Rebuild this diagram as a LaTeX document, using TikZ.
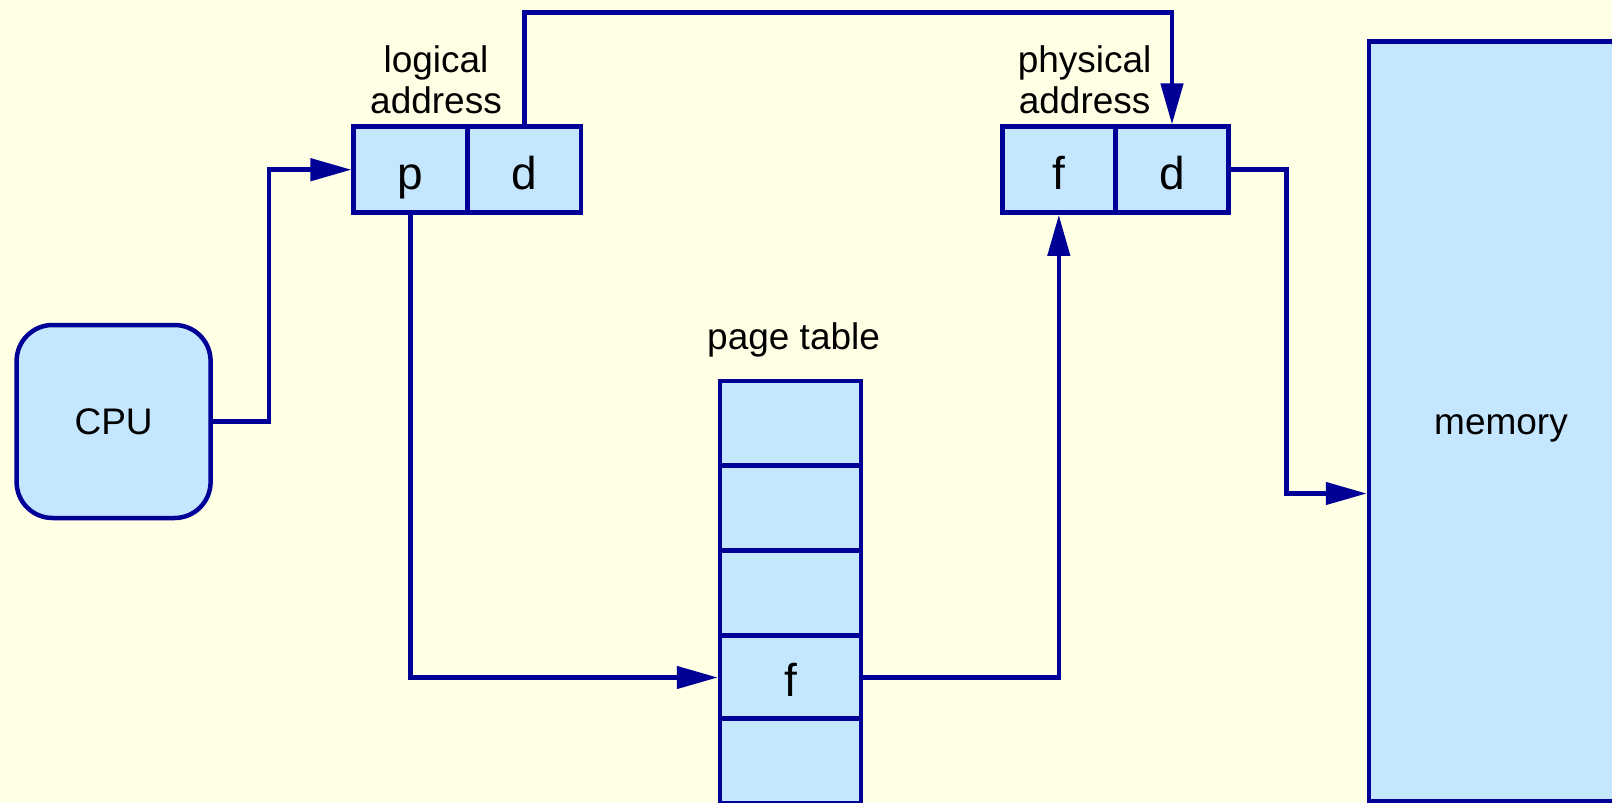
\documentclass[tikz,border=0pt]{standalone}
\usepackage{fontspec}
\setmainfont{Liberation Sans}
\usetikzlibrary{arrows.meta}
\definecolor{bgc}{RGB}{255,255,230}
\definecolor{linec}{RGB}{0,0,150}
\definecolor{fillc}{RGB}{196,230,255}
\tikzset{
  cell/.style={draw=linec, fill=fillc, line width=4.5pt, inner sep=0pt, font=\fontsize{46}{52}\selectfont, text height=38.6pt, text depth=0pt},
  bigbox/.style={cell, font=\fontsize{37}{41}\selectfont, text height=26.6pt, text depth=0pt},
  lbl/.style={inner sep=0pt, align=center, font=\fontsize{37}{41}\selectfont},
  conn/.style={draw=linec, line width=4.5pt},
  arr/.style={conn, -{Triangle[length=41pt,width=22pt]}}
}
\begin{document}
\begin{tikzpicture}[x=1pt,y=-1pt]
\fill[bgc] (0,0) rectangle (1612,803);
\useasboundingbox (0,0) rectangle (1612,803);
\begin{scope}
\clip (0,0) rectangle (1612,803);
% CPU
\node[bigbox, rounded corners=36pt, minimum width=194pt, minimum height=193pt] (cpu) at (113.6,421.5) {CPU};
% logical address
\node[cell, minimum width=114pt, minimum height=86pt] (lp) at (410.7,169.7) {p};
\node[cell, minimum width=113pt, minimum height=86pt] (ld) at (524.3,169.7) {d};
\node[lbl] (ltxt) at (436,80) {logical\\address};
% physical address
\node[cell, minimum width=113pt, minimum height=86pt] (pf) at (1058.8,169.7) {f};
\node[cell, minimum width=113pt, minimum height=86pt] (pd) at (1172,169.7) {d};
\node[lbl] (ptxt) at (1084.6,80) {physical\\address};
% page table
\node[lbl] (pttxt) at (793.6,340.3) {page table};
\node[cell, minimum width=141pt, minimum height=84.3pt] (r1) at (790.5,423.0) {};
\node[cell, minimum width=141pt, minimum height=84.3pt] (r2) at (790.5,508.3) {};
\node[cell, minimum width=141pt, minimum height=84.3pt] (r3) at (790.5,593.1) {};
\node[cell, minimum width=141pt, minimum height=84.3pt] (r4) at (790.5,677.5) {f};
\node[cell, minimum width=141pt, minimum height=84.3pt] (r5) at (790.5,760.8) {};
% memory
\node[bigbox, minimum width=264pt, minimum height=760pt] (mem) at (1501,421.5) {memory};
\end{scope}
% connectors
\draw[arr] (cpu.east) -- ++(56,0) |- (lp.west);
\draw[arr] (ld.north) -- ++(0,-112) -| (pd.north);
\draw[arr] (lp.south) |- (r4.west);
\draw[arr] (r4.east) -| (pf.south);
\coordinate (memin) at ([yshift=-72pt]mem.west);
\draw[arr] (pd.east) -- ++(55.5,0) |- (memin);
\end{tikzpicture}
\end{document}
